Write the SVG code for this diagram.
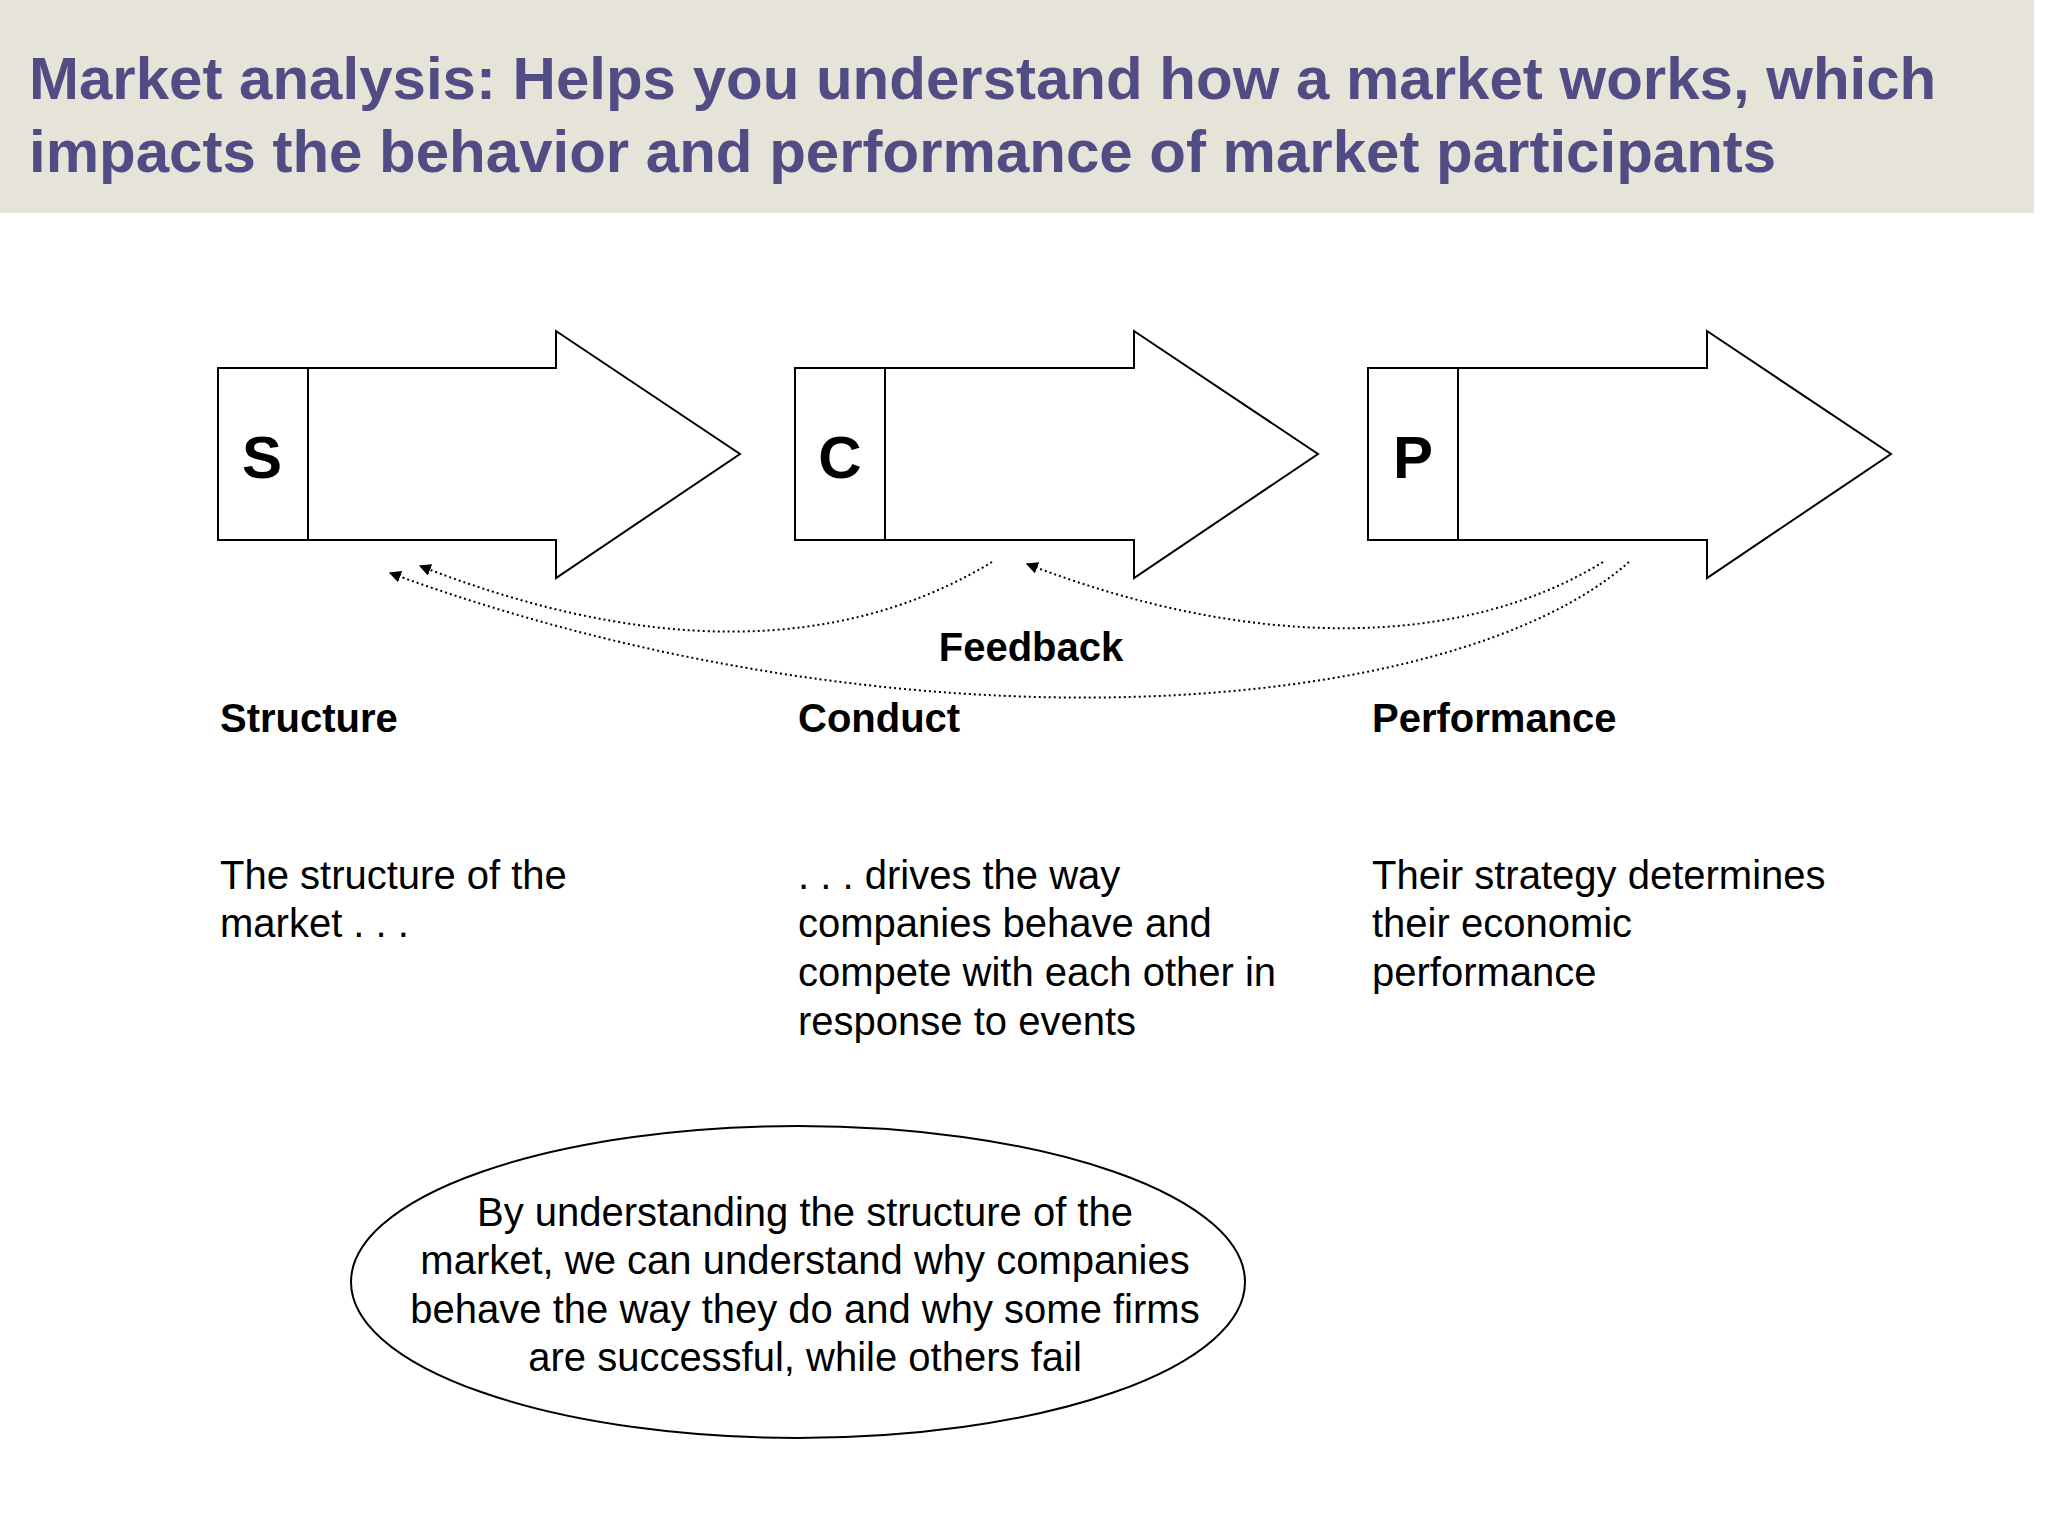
<svg xmlns="http://www.w3.org/2000/svg" width="2048" height="1536" viewBox="0 0 2048 1536">
<defs>
<style>
.t{font-family:"Liberation Sans",Arial,sans-serif;fill:#000}
.ttl{font-family:"Liberation Sans",Arial,sans-serif;font-weight:bold;font-size:60px;fill:#524c84}
.b{font-weight:bold}
.body{font-size:40px}
.arr{fill:#fff;stroke:#000;stroke-width:2}
.fb{fill:none;stroke:#000;stroke-width:2;stroke-dasharray:2 3;marker-end:url(#ah)}
</style>
<marker id="ah" viewBox="0 0 10 10" refX="9" refY="5" markerWidth="12" markerHeight="12" orient="auto" markerUnits="userSpaceOnUse"><path d="M0,0 L10,5 L0,10 z" fill="#000"/></marker>
</defs>
<rect width="2048" height="1536" fill="#fff"/>
<rect x="0" y="0" width="2034" height="213" fill="#e6e3d9"/>
<text class="ttl" x="29" y="99">Market analysis: Helps you understand how a market works, which</text>
<text class="ttl" x="29" y="172">impacts the behavior and performance of market participants</text>
<g id="S"><path class="arr" d="M218,368 H556 V331 L740,454 L556,578 V540 H218 Z"/><line x1="308" y1="368" x2="308" y2="540" stroke="#000" stroke-width="2"/><text class="t b" x="262" y="478" font-size="60" text-anchor="middle">S</text></g>
<g id="C"><path class="arr" d="M795,368 H1134 V331 L1318,454 L1134,578 V540 H795 Z"/><line x1="885" y1="368" x2="885" y2="540" stroke="#000" stroke-width="2"/><text class="t b" x="840" y="478" font-size="60" text-anchor="middle">C</text></g>
<g id="P"><path class="arr" d="M1368,368 H1707 V331 L1891,454 L1707,578 V540 H1368 Z"/><line x1="1458" y1="368" x2="1458" y2="540" stroke="#000" stroke-width="2"/><text class="t b" x="1413" y="478" font-size="60" text-anchor="middle">P</text></g>
<g id="connectors">
<path class="fb" d="M992,562 C880,630 700,675 420,566"/>
<path class="fb" d="M1603,562 C1460,650 1250,650 1027,564"/>
<path class="fb" d="M1629,562 C1450,720 900,760 390,573"/>
</g>
<text class="t b" x="1031" y="661" font-size="40" text-anchor="middle">Feedback</text>
<g id="labels">
<text x="220" y="732" class="t b" font-size="40">Structure</text>
<text x="798" y="732" class="t b" font-size="40">Conduct</text>
<text x="1372" y="732" class="t b" font-size="40">Performance</text>
</g>
<g>
<text x="220" y="889" class="t body">The structure of the</text>
<text x="220" y="937" class="t body">market . . .</text>
<text x="798" y="889" class="t body">. . . drives the way</text>
<text x="798" y="937" class="t body">companies behave and</text>
<text x="798" y="986" class="t body">compete with each other in</text>
<text x="798" y="1035" class="t body">response to events</text>
<text x="1372" y="889" class="t body">Their strategy determines</text>
<text x="1372" y="937" class="t body">their economic</text>
<text x="1372" y="986" class="t body">performance</text>
</g>
<g id="note">
<ellipse cx="798" cy="1282" rx="447" ry="156" fill="#fff" stroke="#000" stroke-width="2"/>
<text class="t body" x="805" y="1226" text-anchor="middle">By understanding the structure of the</text>
<text class="t body" x="805" y="1274" text-anchor="middle">market, we can understand why companies</text>
<text class="t body" x="805" y="1323" text-anchor="middle">behave the way they do and why some firms</text>
<text class="t body" x="805" y="1371" text-anchor="middle">are successful, while others fail</text>
</g>
</svg>
